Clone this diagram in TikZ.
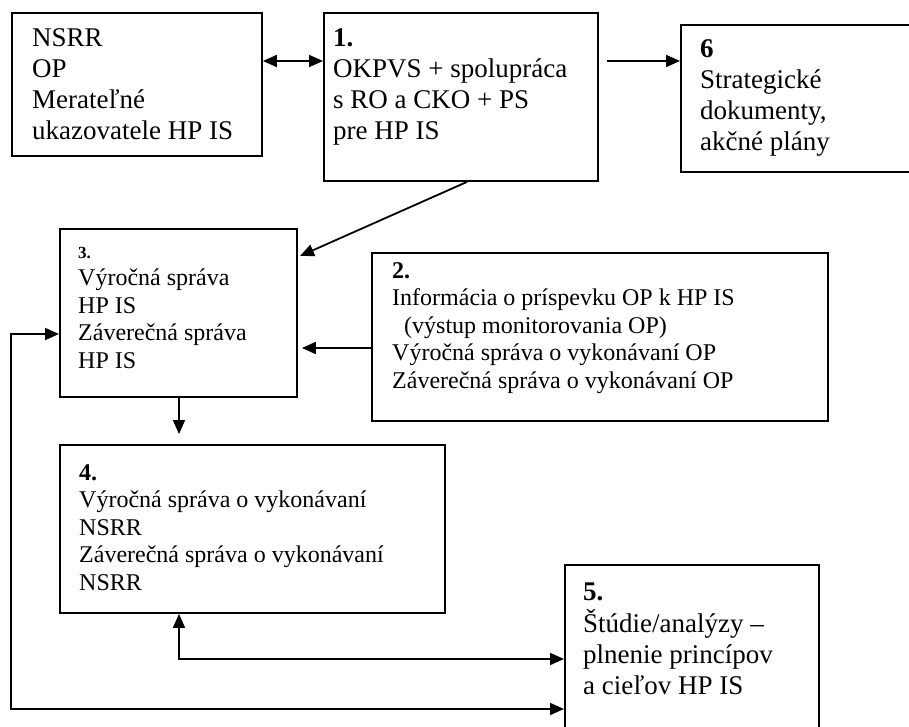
\documentclass[tikz,border=0pt]{standalone}
\usepackage{fontspec}
\setmainfont{Liberation Serif}
\usetikzlibrary{arrows.meta}
\newcommand\fbigsz{\fontsize{27pt}{31pt}\selectfont}
\newcommand\fsmallsz{\fontsize{24pt}{27.6pt}\selectfont}
\tikzset{
  box/.style={draw=black, line width=1.9pt, rectangle, inner sep=0pt, anchor=north west},
  txt/.style={anchor=base west, inner sep=0pt},
  tip/.tip={Triangle[length=14pt,width=12pt]},
  arr/.style={line width=1.8pt, -tip},
  darr/.style={line width=1.8pt, tip-tip},
}
\begin{document}
\begin{tikzpicture}[x=1pt,y=-1pt]
\useasboundingbox (0,0) rectangle (909,727);
\clip (0,0) rectangle (909,727);
\fill[white] (0,0) rectangle (909,727);
% boxes
\node[box, minimum width=250pt, minimum height=143pt] (A) at (11,12) {};
\node[box, minimum width=274pt, minimum height=168pt] (B1) at (323,12) {};
\node[box, minimum width=250pt, minimum height=147pt] (B6) at (680,24) {};
\node[box, minimum width=237pt, minimum height=168pt] (B3) at (59,228) {};
\node[box, minimum width=456pt, minimum height=168pt] (B2) at (371,252) {};
\node[box, minimum width=385pt, minimum height=168pt] (B4) at (59,444) {};
\node[box, minimum width=254pt, minimum height=190pt] (B5) at (564,564) {};
% texts
\node[txt] (At) at (32,47) {\fbigsz\begin{tabular}[t]{@{}l@{}}NSRR\\OP\\Merateľné\\ukazovatele HP IS\end{tabular}};
\node[txt] (B1t) at (333,47) {\fbigsz\begin{tabular}[t]{@{}l@{}}\textbf{1.}\\OKPVS + spolupráca\\s RO a CKO + PS\\pre HP IS\end{tabular}};
\node[txt] (B6t) at (700,58) {\fbigsz\begin{tabular}[t]{@{}l@{}}\textbf{6}\\Strategické\\dokumenty,\\akčné plány\end{tabular}};
\node[txt] (B3t) at (78,258) {\fsmallsz\begin{tabular}[t]{@{}l@{}}{\fontsize{17pt}{18pt}\selectfont\textbf{3.}}\\Výročná správa\\HP IS\\Záverečná správa\\HP IS\end{tabular}};
\node[txt] (B2t) at (392,278) {\fsmallsz\begin{tabular}[t]{@{}l@{}}\textbf{2.}\\Informácia o príspevku OP k HP IS\\\hspace{12pt}(výstup monitorovania OP)\\Výročná správa o vykonávaní OP\\Záverečná správa o vykonávaní OP\end{tabular}};
\node[txt] (B4t) at (79,480) {\fsmallsz\begin{tabular}[t]{@{}l@{}}\textbf{4.}\\Výročná správa o vykonávaní\\NSRR\\Záverečná správa o vykonávaní\\NSRR\end{tabular}};
\node[txt] (B5t) at (583,600) {\fbigsz\begin{tabular}[t]{@{}l@{}}\textbf{5.}\\Štúdie/analýzy –\\plnenie princípov\\a cieľov HP IS\end{tabular}};
% helper coordinates
\coordinate (y61) at (0,61);
\coordinate (x607) at (607,0);
\coordinate (x467) at (467,0);
\coordinate (t13) at (300,256);
\coordinate (y348) at (0,348);
\coordinate (x179) at (179,0);
\coordinate (y659) at (0,659);
\coordinate (y334) at (0,334);
\coordinate (y709) at (0,709);
\coordinate (L1) at (11,334);
\coordinate (L2) at (11,709);
% connectors
\draw[darr] (A.east |- y61) -- (B1.west |- y61);
\draw[arr] (x607 |- y61) -- (B6.west |- y61);
\draw[arr] (x467 |- B1.south) -- (t13);
\draw[arr, shorten >=4pt] (B2.west |- y348) -- (B3.east |- y348);
\draw[arr, shorten >=10pt] (x179 |- B3.south) -- (x179 |- B4.north);
\draw[darr] (x179 |- B4.south) |- (B5.west |- y659);
\draw[darr] (B3.west |- y334) -- (L1) -- (L2) -- (B5.west |- y709);
\end{tikzpicture}
\end{document}
